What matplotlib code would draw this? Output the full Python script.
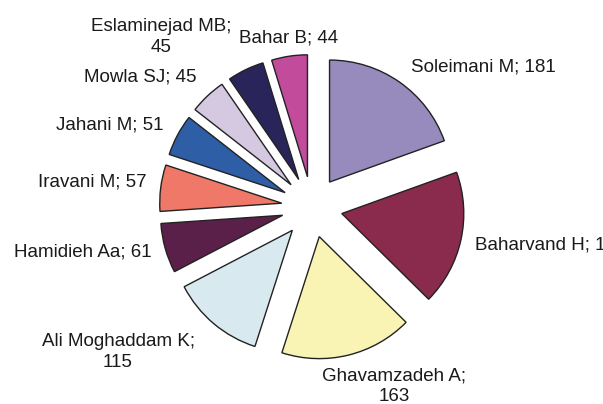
import matplotlib
matplotlib.use('Agg')
from matplotlib import pyplot as plt

# data (clockwise from 12 o'clock)
names = ['Soleimani M', 'Baharvand H', 'Ghavamzadeh A', 'Ali Moghaddam K',
         'Hamidieh Aa', 'Iravani M', 'Jahani M', 'Mowla SJ',
         'Eslaminejad MB', 'Bahar B']
counts = [181, 166, 163, 115, 61, 57, 51, 45, 45, 44]
colors = ['#978bbd', '#8a2a4c', '#f9f4b3', '#d8eaf0', '#5b2049',
          '#ef7868', '#2e5ea6', '#d5c9e1', '#29245a', '#c24b9c']

# label text layout: (x, y, ha) in pixels from top-left, and line break
label_pos = [(483, 67, 'center'), (475, 245, 'left'), (394, 386, 'center'),
             (118, 352, 'center'), (152, 252, 'right'), (147, 182, 'right'),
             (164, 125, 'right'), (197, 77, 'right'), (161, 37, 'center'),
             (289, 38, 'center')]
wrap = [False, False, True, True, False, False, False, False, True, False]

plt.rcParams['font.family'] = ['Liberation Sans', 'DejaVu Sans']

fig = plt.figure(figsize=(6.03, 4.04), dpi=100)
ax = fig.add_axes([0, 0, 1, 1])

r_px = 122
cx, cy = 312, 207
ax.pie(counts, colors=colors, startangle=90, counterclock=False,
       explode=[0.25] * len(counts), radius=1.0,
       wedgeprops=dict(edgecolor='#222222', linewidth=1.0))
ax.set_xlim(-cx / r_px, (603 - cx) / r_px)
ax.set_ylim(-(404 - cy) / r_px, cy / r_px)
ax.set_aspect('auto')
ax.axis('off')

for name, n, (x, y, ha), w in zip(names, counts, label_pos, wrap):
    txt = f'{name};\n{n}' if w else f'{name}; {n}'
    ax.text(x / 603, 1 - y / 404, txt, transform=ax.transAxes, ha=ha,
            va='center', multialignment='center', fontsize=13.5,
            color='#1a1a1a', linespacing=1.3)

plt.savefig('out.png', dpi=100)
